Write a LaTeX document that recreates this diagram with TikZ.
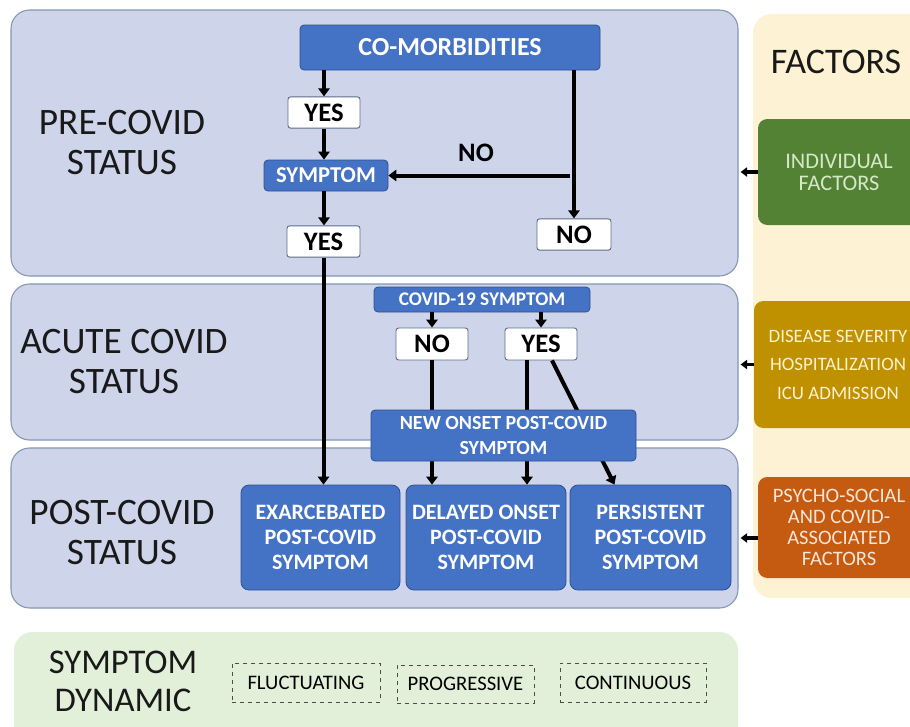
\documentclass[tikz,border=0pt]{standalone}
\usepackage{fontspec}
\setmainfont{Carlito}
\usetikzlibrary{arrows.meta,fit,calc}
\definecolor{panelfill}{HTML}{CED4EA}
\definecolor{paneledge}{HTML}{8497B0}
\definecolor{bluebox}{HTML}{4472C4}
\definecolor{blueedge}{HTML}{2F528F}
\definecolor{whiteedge}{HTML}{5B6F88}
\definecolor{factorfill}{HTML}{FEF2D4}
\definecolor{greenbox}{HTML}{548235}
\definecolor{goldbox}{HTML}{BF9000}
\definecolor{orangebox}{HTML}{C55A11}
\definecolor{greentext}{HTML}{D5E8C8}
\definecolor{goldtext}{HTML}{FFF2CC}
\definecolor{orangetext}{HTML}{FBE5D6}
\definecolor{dynfill}{HTML}{E2EFD9}
\tikzset{
  panelbox/.style={draw=paneledge, fill=panelfill, line width=0.8pt, rounded corners=14pt, inner sep=0pt},
  bluenode/.style={draw=blueedge, fill=bluebox, line width=0.6pt, rounded corners=3pt, inner sep=0pt, text=white, font=\bfseries, align=center},
  whitenode/.style={draw=whiteedge, fill=white, line width=0.7pt, rounded corners=2pt, inner sep=0pt, text=black, font=\bfseries\fontsize{20}{22}\selectfont, minimum height=23.5pt},
  factorbox/.style={rounded corners=7pt, inner sep=0pt, align=center},
  dashbox/.style={draw=black!70, dashed, line width=0.6pt, inner sep=0pt, font=\fontsize{15.5}{18}\selectfont},
  panellabel/.style={align=center, font=\fontsize{28}{30}\selectfont, text=black!90},
  arr/.style={line width=3pt, -{Triangle[width=8.5pt,length=6pt]}},
  farr/.style={line width=2.4pt, -{Triangle[width=7pt,length=5pt]}},
}
\begin{document}
\begin{tikzpicture}[x=0.75pt,y=-0.75pt]
\useasboundingbox[fill=white] (0,0) rectangle (910,726);
\clip (0,0) rectangle (910,726);

% panels
\node[panelbox, fit={(11,10) (738,276)}] (pre) {};
\node[panelbox, fit={(11,284) (738,440)}] (acute) {};
\node[panelbox, fit={(11,448) (738,608)}] (post) {};
\node[fill=factorfill, rounded corners=14pt, inner sep=0pt, fit={(753,14) (940,598)}] (fpan) {};
\node[fill=dynfill, rounded corners=14pt, inner sep=0pt, fit={(14,632) (738,760)}] (dpan) {};

% panel labels
\node[panellabel] (lpre) at (122,143) {PRE-COVID\\STATUS};
\node[panellabel] (lacute) at (124,362) {ACUTE COVID\\STATUS};
\node[panellabel] (lpost) at (122,533) {POST-COVID\\STATUS};
\node[font=\fontsize{27}{30}\selectfont, text=black!90] (lfac) at (836,62) {FACTORS};
\node[align=center, font=\fontsize{26}{28.5}\selectfont, text=black!90] (ldyn) at (123,681) {SYMPTOM\\DYNAMIC};

% pre-covid nodes
\node[bluenode, minimum width=225pt, minimum height=33.75pt, font=\bfseries\fontsize{19.5}{22}\selectfont] (cm) at (450,47.5) {CO-MORBIDITIES};
\node[whitenode, minimum width=54pt] (yes1) at (324,112.5) {YES};
\node[bluenode, minimum width=93pt, minimum height=23.25pt, font=\bfseries\fontsize{17}{20}\selectfont] (sym) at (326,175.5) {SYMPTOM};
\node[whitenode, minimum width=54.75pt] (yes2) at (323.5,241.5) {YES};
\node[whitenode, minimum width=55.5pt] (no1) at (574,234.5) {NO};
\node[font=\bfseries\fontsize{20}{22}\selectfont] (nolab) at (476,153) {NO};

% acute nodes
\node[bluenode, minimum width=162pt, minimum height=18.75pt, font=\bfseries\fontsize{14.5}{17}\selectfont] (cov) at (482,299.5) {COVID-19 SYMPTOM};
\node[whitenode, minimum width=54pt, minimum height=24pt] (no2) at (432,344) {NO};
\node[whitenode, minimum width=54pt, minimum height=24pt] (yes3) at (541,344) {YES};

% post nodes
\node[bluenode, minimum width=119.25pt, minimum height=78.75pt, rounded corners=6pt, font=\bfseries\fontsize{16.5}{18.75}\selectfont] (ex) at (320.5,537.5) {EXARCEBATED\\POST-COVID\\SYMPTOM};
\node[bluenode, minimum width=120pt, minimum height=78.75pt, rounded corners=6pt, font=\bfseries\fontsize{16.5}{18.75}\selectfont] (del) at (486,537.5) {DELAYED ONSET\\POST-COVID\\SYMPTOM};
\node[bluenode, minimum width=120.75pt, minimum height=78.75pt, rounded corners=6pt, font=\bfseries\fontsize{16.5}{18.75}\selectfont] (per) at (650.5,537.5) {PERSISTENT\\POST-COVID\\SYMPTOM};

% arrows pre-covid
\draw[arr] (yes1.north |- cm.south) -- (yes1.north);
\draw[arr] (yes1.south) -- (yes1.south |- sym.north);
\draw[arr] (yes1.south |- sym.south) -- (yes1.south |- yes2.north);
\draw[arr] (no1.north |- cm.south) -- (no1.north);
\coordinate (j) at ($(no1.north |- sym.east)+(-4,0)$);
\draw[arr] (j) -- (sym.east);
\draw[arr] (yes2.south) -- (yes2.south |- ex.north);

% arrows acute
\draw[arr] (no2.north |- cov.south) -- (no2.north);
\draw[arr] (yes3.north |- cov.south) -- (yes3.north);
\draw[arr] (no2.south) -- (no2.south |- del.north);
\coordinate (ya) at ($(yes3.south)+(-14,0)$);
\draw[arr] (ya) -- (ya |- del.north);
\coordinate (yb) at ($(yes3.south)+(11,0)$);
\coordinate (pb) at ($(per.north)+(-36,0)$);
\draw[arr] (yb) -- (pb);

% new onset node on top of the lines
\node[bluenode, minimum width=198.75pt, minimum height=38.25pt, font=\bfseries\fontsize{15}{18}\selectfont] (new) at (503.5,435.5) {NEW ONSET POST-COVID\\SYMPTOM};

% factor boxes
\node[factorbox, fill=greenbox, text=greentext, minimum width=121.5pt, minimum height=79.5pt, font=\fontsize{16.7}{16.5}\selectfont] (f1) at (839,172) {INDIVIDUAL\\FACTORS};
\node[factorbox, fill=goldbox, text=goldtext, minimum width=126pt, minimum height=95.25pt, font=\fontsize{14.2}{21.4}\selectfont] (f2) at (838,364.5) {DISEASE SEVERITY\\HOSPITALIZATION\\ICU ADMISSION};
\node[factorbox, fill=orangebox, text=orangetext, minimum width=121.5pt, minimum height=75.75pt, font=\fontsize{15.4}{15.75}\selectfont] (f3) at (839,527.5) {PSYCHO-SOCIAL\\AND COVID-\\ASSOCIATED\\FACTORS};

\draw[farr] (f1.west) -- ($(f1.west -| pre.east)+(2,0)$);
\draw[farr] (f2.west) -- ($(f2.west -| acute.east)+(2,0)$);
\draw[farr] ($(f3.west)+(0,10.5)$) -- ($(f3.west -| post.east)+(2,10.5)$);

% dynamic boxes
\node[dashbox, minimum width=111pt, minimum height=29.25pt] (d1) at (306,682.5) {FLUCTUATING};
\node[dashbox, minimum width=102.75pt, minimum height=28.5pt] (d2) at (465.5,684) {PROGRESSIVE};
\node[dashbox, minimum width=109.5pt, minimum height=29.25pt] (d3) at (633,682.5) {CONTINUOUS};
\end{tikzpicture}
\end{document}
